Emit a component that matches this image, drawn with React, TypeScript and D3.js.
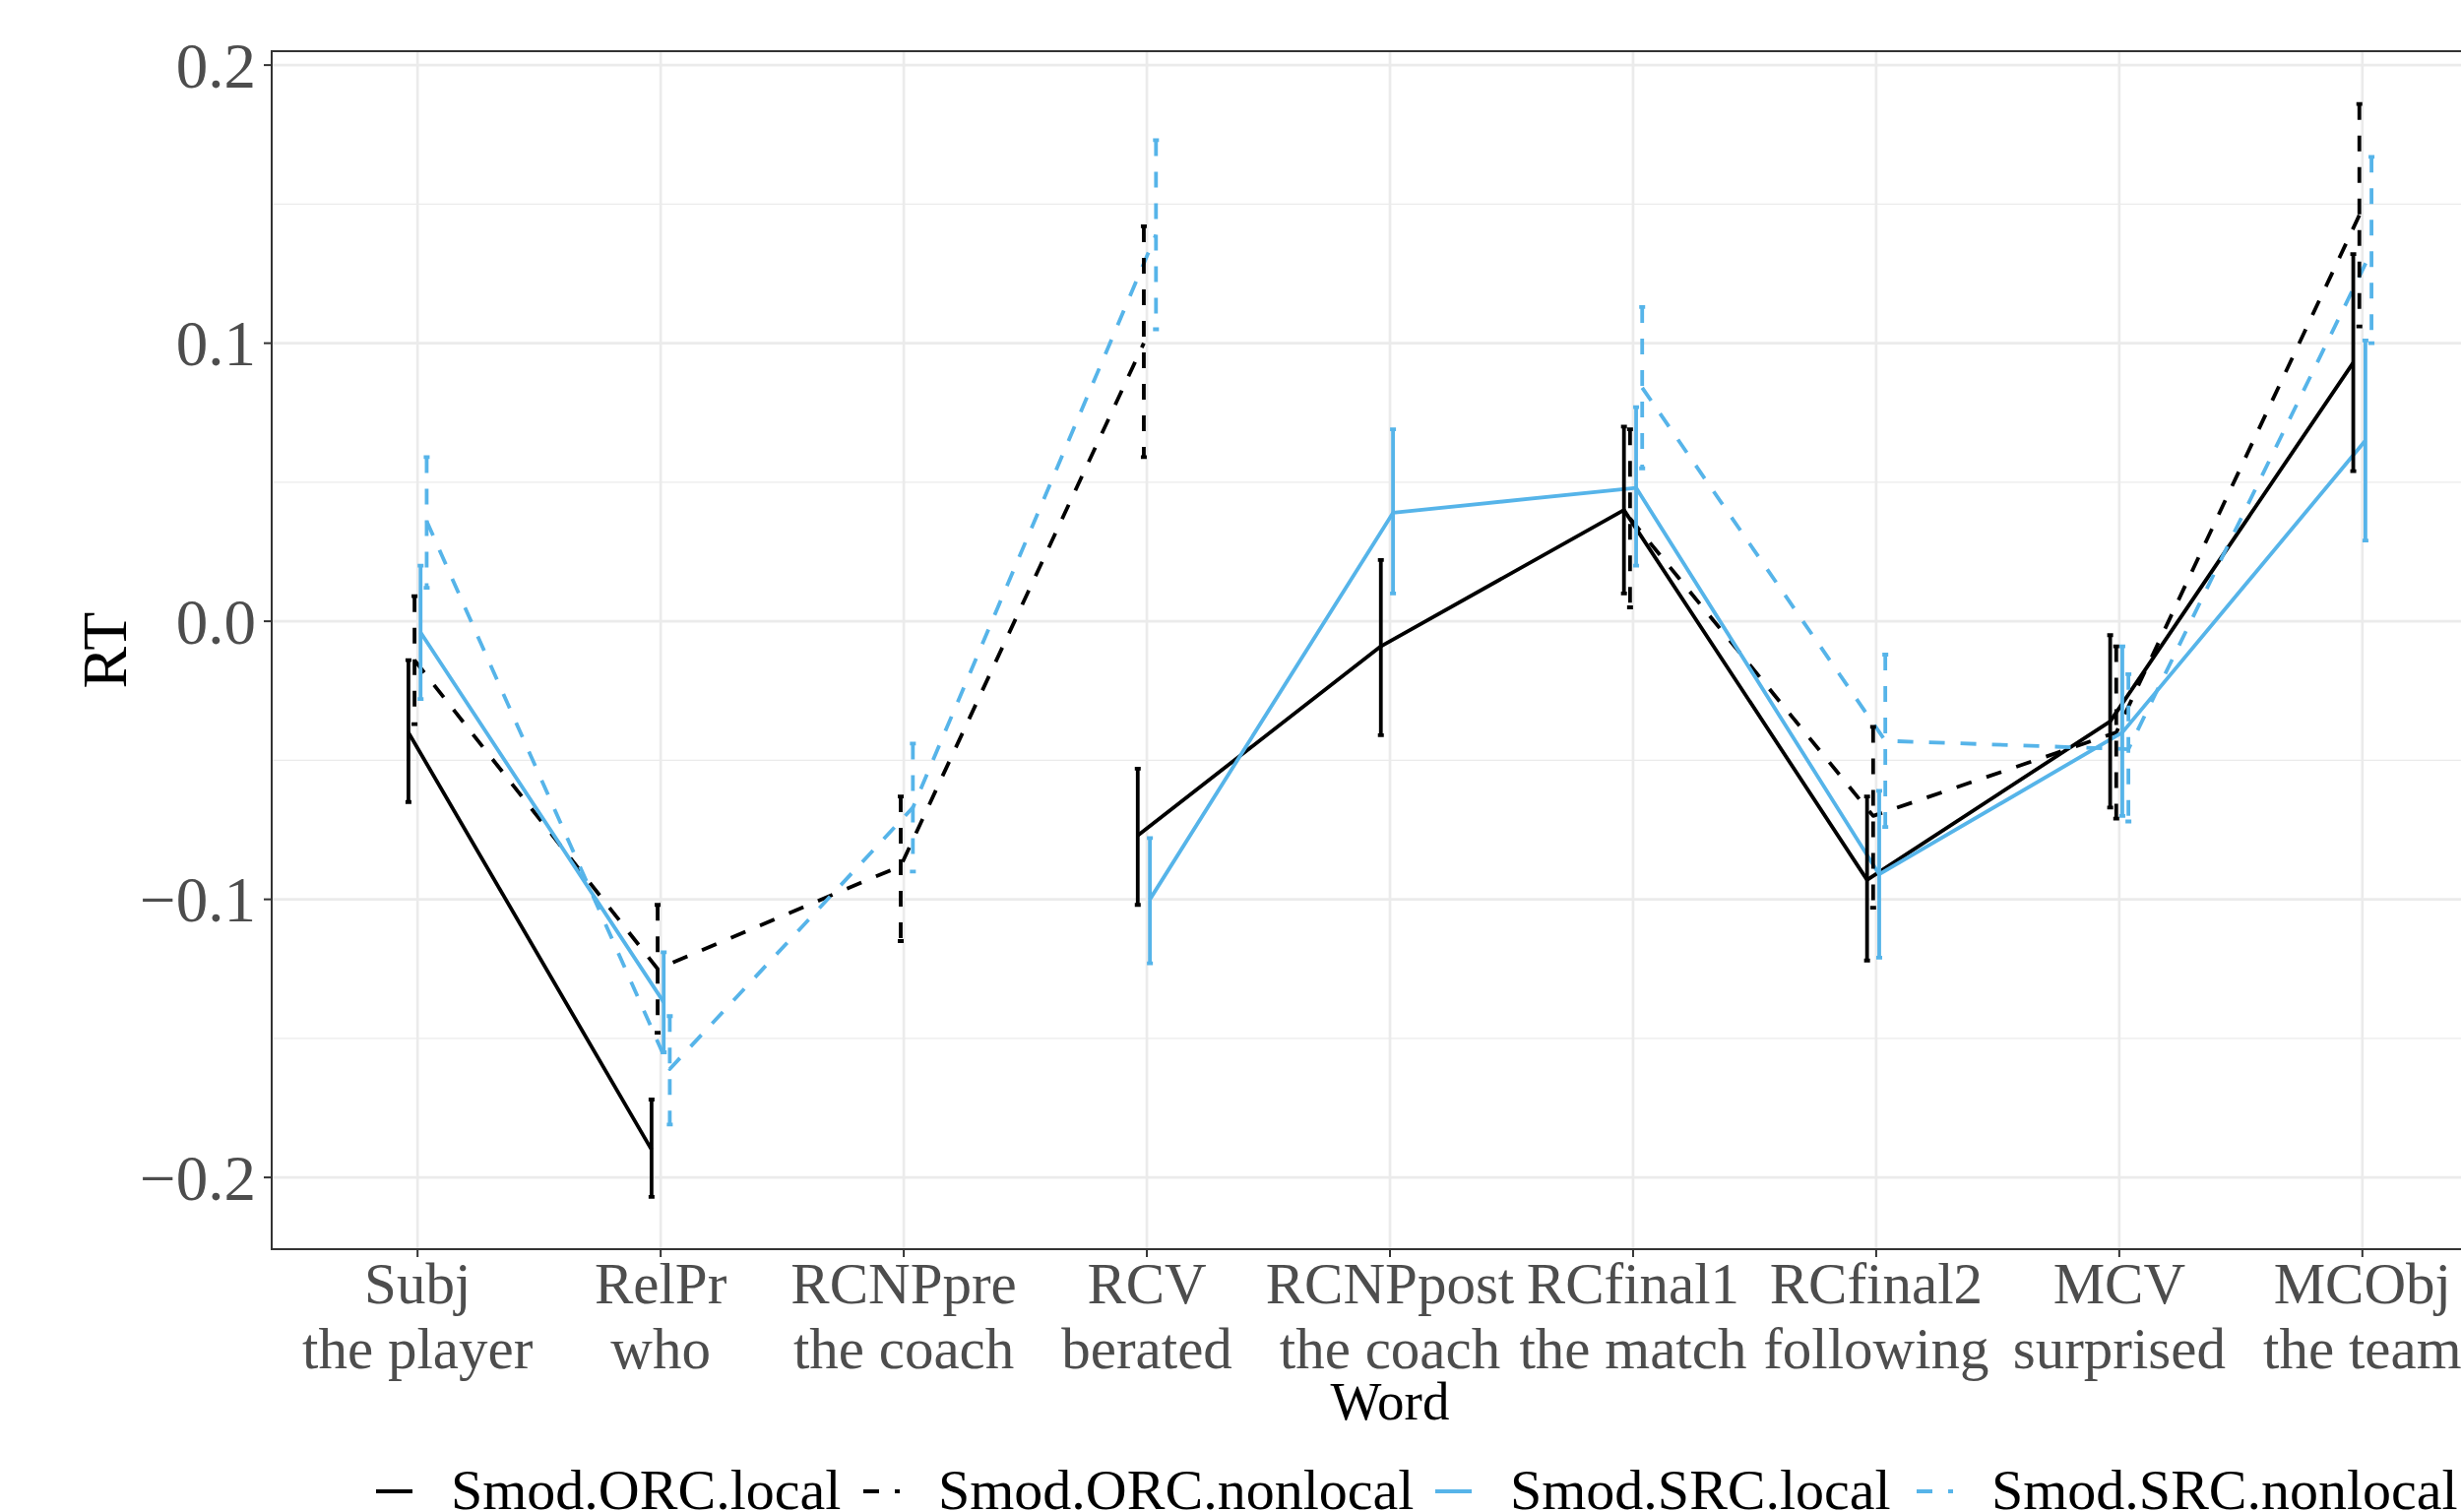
import React from "react";
import * as d3 from "d3";

const categories = ["Subj", "RelPr", "RCNPpre", "RCV", "RCNPpost", "RCfinal1", "RCfinal2", "MCV", "MCObj"];
const words = ["the player", "who", "the coach", "berated", "the coach", "the match", "following", "surprised", "the team"];
const seriesNames = ["Smod.ORC.local", "Smod.ORC.nonlocal", "Smod.SRC.local", "Smod.SRC.nonlocal"];

const orcLocalMean = [-0.040, -0.190, null, -0.077, -0.009, 0.040, -0.093, -0.036, 0.093];
const orcLocalLo = [-0.065, -0.207, null, -0.102, -0.041, 0.010, -0.122, -0.067, 0.054];
const orcLocalHi = [-0.014, -0.172, null, -0.053, 0.022, 0.070, -0.063, -0.005, 0.132];

const orcNonlocalMean = [-0.014, -0.125, -0.088, 0.100, null, 0.037, -0.070, -0.040, 0.146];
const orcNonlocalLo = [-0.037, -0.148, -0.115, 0.059, null, 0.005, -0.103, -0.071, 0.106];
const orcNonlocalHi = [0.009, -0.102, -0.063, 0.142, null, 0.069, -0.038, -0.009, 0.186];

const srcLocalMean = [-0.004, -0.137, null, -0.100, 0.039, 0.048, -0.091, -0.040, 0.065];
const srcLocalLo = [-0.028, -0.155, null, -0.123, 0.010, 0.020, -0.121, -0.070, 0.029];
const srcLocalHi = [0.020, -0.119, null, -0.078, 0.069, 0.077, -0.061, -0.009, 0.101];

const srcNonlocalMean = [0.036, -0.161, -0.067, 0.139, null, 0.084, -0.043, -0.046, 0.133];
const srcNonlocalLo = [0.012, -0.181, -0.090, 0.105, null, 0.055, -0.074, -0.072, 0.100];
const srcNonlocalHi = [0.059, -0.142, -0.044, 0.173, null, 0.113, -0.012, -0.019, 0.167];

const yMajorTicks = [-0.2, -0.1, 0.0, 0.1, 0.2];
const yTickLabels = ["\u22120.2", "\u22120.1", "0.0", "0.1", "0.2"];
const yMinorTicks = [-0.15, -0.05, 0.05, 0.15];

const seriesColors = ["#000000", "#000000", "#56B4E9", "#56B4E9"];
const seriesDashes = [null, "16,16", null, "16,16"];

const W = 2500;
const H = 1536;
const FONT = "'Liberation Serif', 'Times New Roman', serif";

const panel = { left: 276, right: 2548, top: 52, bottom: 1269 };

export default function App() {
  const data = [
    { name: seriesNames[0], mean: orcLocalMean, lo: orcLocalLo, hi: orcLocalHi },
    { name: seriesNames[1], mean: orcNonlocalMean, lo: orcNonlocalLo, hi: orcNonlocalHi },
    { name: seriesNames[2], mean: srcLocalMean, lo: srcLocalLo, hi: srcLocalHi },
    { name: seriesNames[3], mean: srcNonlocalMean, lo: srcNonlocalLo, hi: srcNonlocalHi },
  ];

  const x = d3.scalePoint<string>().domain(categories).range([panel.left, panel.right]).padding(0.6);
  const step = x.step();
  const y = d3.scaleLinear().domain([-0.2258, 0.205]).range([panel.bottom, panel.top]);

  const dodgeWidth = 0.1;
  const n = data.length;
  const offset = (i: number) => ((i + 0.5) / n - 0.5) * dodgeWidth * step;

  const lw = 3.8;
  const capHalf = 3;

  const legendKeyX = [382, 877, 1458, 1947];
  const legendY = 1515;

  return (
    <svg width={W} height={H} style={{ position: "absolute", left: 0, top: 0, background: "#fff" }} fontFamily={FONT}>
      <rect x={0} y={0} width={W} height={H} fill="#ffffff" />
      {/* minor grid */}
      {yMinorTicks.map((t) => (
        <line key={"mn" + t} x1={panel.left} x2={panel.right} y1={y(t)} y2={y(t)} stroke="#EBEBEB" strokeWidth={1.3} />
      ))}
      {/* major grid */}
      {yMajorTicks.map((t) => (
        <line key={"mj" + t} x1={panel.left} x2={panel.right} y1={y(t)} y2={y(t)} stroke="#EBEBEB" strokeWidth={2.7} />
      ))}
      {categories.map((c) => (
        <line key={"vg" + c} x1={x(c)} x2={x(c)} y1={panel.top} y2={panel.bottom} stroke="#EBEBEB" strokeWidth={2.7} />
      ))}

      {/* lines */}
      {data.map((s, i) => {
        const line = d3
          .line<number | null>()
          .defined((d) => d !== null)
          .x((_, j) => (x(categories[j]) as number) + offset(i))
          .y((d) => y(d as number));
        return (
          <path
            key={"ln" + i}
            d={line(s.mean) || ""}
            fill="none"
            stroke={seriesColors[i]}
            strokeWidth={lw}
            strokeDasharray={seriesDashes[i] || undefined}
            strokeLinejoin="round"
          />
        );
      })}

      {/* error bars */}
      {data.map((s, i) =>
        s.mean.map((m, j) => {
          if (m === null) return null;
          const cx = (x(categories[j]) as number) + offset(i);
          const yt = y(s.hi[j] as number);
          const yb = y(s.lo[j] as number);
          const d = `M${cx - capHalf},${yt}L${cx + capHalf},${yt}M${cx},${yt}L${cx},${yb}M${cx - capHalf},${yb}L${cx + capHalf},${yb}`;
          return (
            <path
              key={"eb" + i + "-" + j}
              d={d}
              fill="none"
              stroke={seriesColors[i]}
              strokeWidth={lw}
              strokeDasharray={seriesDashes[i] || undefined}
            />
          );
        })
      )}

      {/* panel border */}
      <rect
        x={panel.left}
        y={panel.top}
        width={panel.right - panel.left}
        height={panel.bottom - panel.top}
        fill="none"
        stroke="#333333"
        strokeWidth={2}
      />

      {/* y axis ticks and labels */}
      {yMajorTicks.map((t, k) => (
        <g key={"yt" + t}>
          <line x1={panel.left - 8} x2={panel.left} y1={y(t)} y2={y(t)} stroke="#333333" strokeWidth={2} />
          <text x={panel.left - 16} y={y(t)} dy="0.35em" textAnchor="end" fontSize={65} fill="#4D4D4D">
            {yTickLabels[k]}
          </text>
        </g>
      ))}

      {/* x axis ticks and labels */}
      {categories.map((c, j) => (
        <g key={"xt" + c}>
          <line x1={x(c)} x2={x(c)} y1={panel.bottom} y2={panel.bottom + 8} stroke="#333333" strokeWidth={2} />
          <text x={x(c)} y={1324} textAnchor="middle" fontSize={59} fill="#4D4D4D">
            {c}
          </text>
          <text x={x(c)} y={1390} textAnchor="middle" fontSize={59} fill="#4D4D4D">
            {words[j]}
          </text>
        </g>
      ))}

      {/* axis titles */}
      <text x={(panel.left + panel.right) / 2} y={1442} textAnchor="middle" fontSize={55} fill="#000">
        Word
      </text>
      <text
        transform={`translate(128, ${(panel.top + panel.bottom) / 2}) rotate(-90)`}
        textAnchor="middle"
        fontSize={64}
        fill="#000"
      >
        RT
      </text>

      {/* legend */}
      {seriesNames.map((nm, i) => (
        <g key={"lg" + i}>
          <line
            x1={legendKeyX[i]}
            x2={legendKeyX[i] + 37}
            y1={legendY}
            y2={legendY}
            stroke={seriesColors[i]}
            strokeWidth={lw}
            strokeDasharray={seriesDashes[i] || undefined}
          />
          <text x={legendKeyX[i] + 76} y={1533} fontSize={58} fill="#000">
            {nm}
          </text>
        </g>
      ))}
    </svg>
  );
}
